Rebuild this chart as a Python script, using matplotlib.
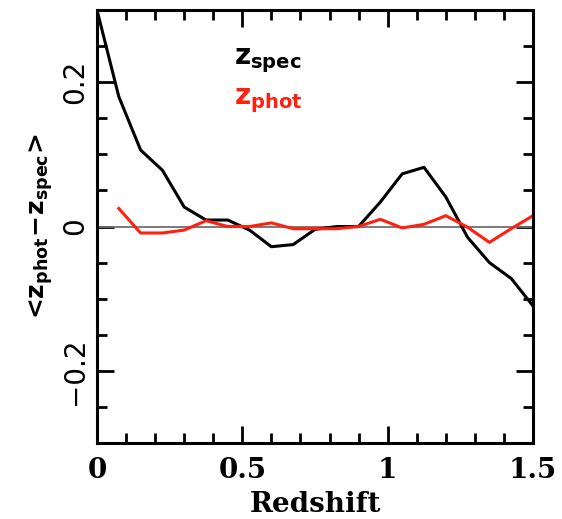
import matplotlib
matplotlib.use("Agg")
import matplotlib.pyplot as plt
from matplotlib.ticker import MultipleLocator

# binned mean offset vs redshift
z_spec_bins = [0.0, 0.075, 0.15, 0.225, 0.3, 0.375, 0.45, 0.525, 0.6, 0.675, 0.75,
               0.825, 0.9, 0.975, 1.05, 1.125, 1.2, 1.275, 1.35, 1.425, 1.5]
dz_spec = [0.300, 0.180, 0.106, 0.078, 0.027, 0.009, 0.009, -0.005, -0.028, -0.025, -0.004,
           0.000, 0.000, 0.034, 0.073, 0.082, 0.041, -0.015, -0.050, -0.072, -0.110]

z_phot_bins = [0.075, 0.15, 0.225, 0.3, 0.375, 0.45, 0.525, 0.6, 0.675, 0.75,
               0.825, 0.9, 0.975, 1.05, 1.125, 1.2, 1.275, 1.35, 1.425, 1.5]
dz_phot = [0.025, -0.009, -0.009, -0.005, 0.008, 0.000, 0.000, 0.005, -0.003, -0.003,
           -0.003, 0.000, 0.010, -0.002, 0.003, 0.015, -0.001, -0.022, -0.003, 0.015]

plt.rcParams['mathtext.fontset'] = 'dejavusans'

fig = plt.figure(figsize=(5.62, 5.19), dpi=100)
ax = fig.add_axes([0.1726, 0.1464, 0.7758, 0.8343])

ax.axhline(0, color='#707070', lw=1.3)
ax.plot(z_spec_bins, dz_spec, color='black', lw=2.2)
ax.plot(z_phot_bins, dz_phot, color='#ff2010', lw=2.2)

ax.set_xlim(0, 1.5)
ax.set_ylim(-0.3, 0.3)

ax.xaxis.set_major_locator(MultipleLocator(0.5))
ax.xaxis.set_minor_locator(MultipleLocator(0.1))
ax.yaxis.set_major_locator(MultipleLocator(0.2))
ax.yaxis.set_minor_locator(MultipleLocator(0.05))
ax.tick_params(which='both', direction='in', top=True, right=True, width=2)
ax.tick_params(which='major', length=12)
ax.tick_params(which='minor', length=7)
ax.tick_params(axis='x', pad=10)
ax.tick_params(axis='y', pad=6)

for s in ax.spines.values():
    s.set_linewidth(2.2)

ax.set_xticks([0, 0.5, 1, 1.5])
ax.set_xticklabels(['0', '0.5', '1', '1.5'], family='DejaVu Serif', fontweight='bold', fontsize=20)
ax.set_yticks([-0.2, 0, 0.2])
ax.set_yticklabels(['\u22120.2', '0', '0.2'], fontsize=20, rotation=90, va='center')

ax.set_xlabel('Redshift', family='DejaVu Serif', fontweight='bold', fontsize=20, labelpad=5)
ax.set_ylabel('<' + r'$\mathbf{z_{phot}\!-\!z_{spec}}$' + '>', fontsize=18,
              fontweight='bold', labelpad=4)

ax.text(0.47, 0.23, r'$\mathbf{z_{spec}}$', color='black', fontsize=20, va='center')
ax.text(0.47, 0.175, r'$\mathbf{z_{phot}}$', color='#ff2010', fontsize=20, va='center')

fig.savefig('out.png', dpi=100)
